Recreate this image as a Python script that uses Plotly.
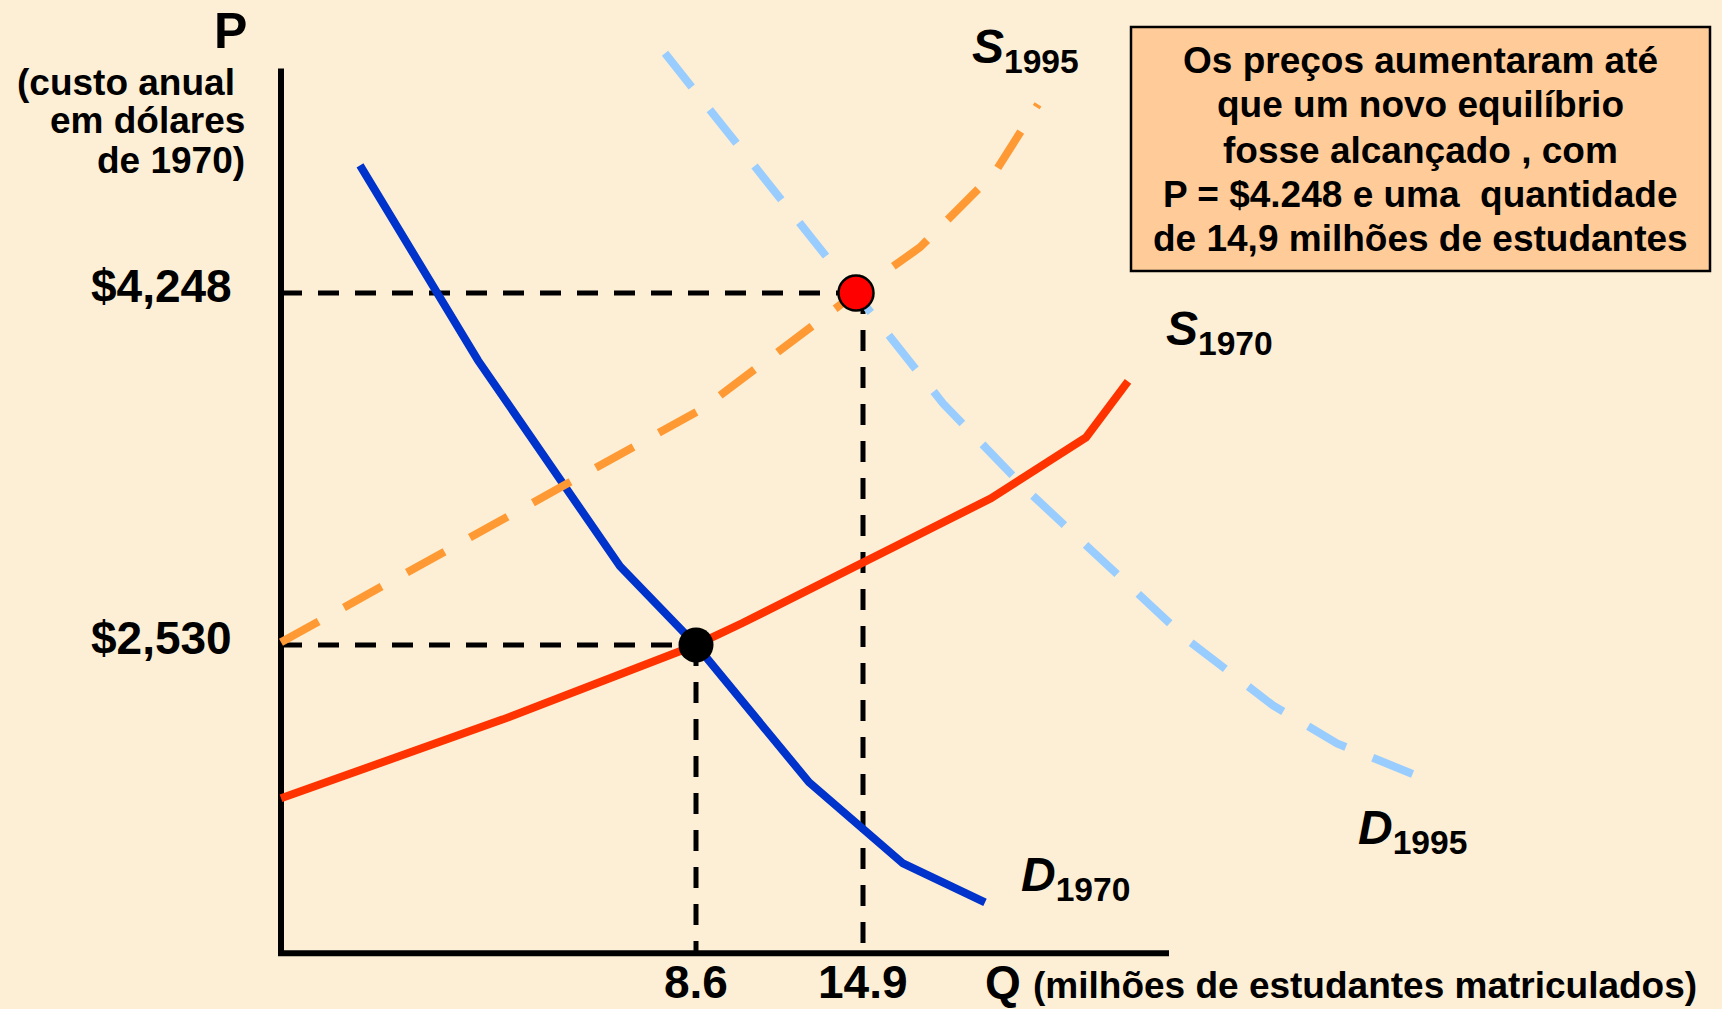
import plotly.graph_objects as go

W, H = 1722, 1009

# ---------------- data ----------------
# q: horizontal position in chart units (0 = vertical axis); P: annual cost in 1970 dollars
d1970_q = [7.9, 19.7, 33.9, 41.5, 52.8, 62.2, 70.4]
d1970_p = [4871, 3919, 2914, 2530, 1860, 1464, 1274]

s1970_q = [0, 22.2, 41.5, 46.1, 71.0, 80.5, 84.7]
s1970_p = [1782, 2167, 2530, 2636, 3246, 3543, 3817]

s1995_q = [0, 42.2, 57.5, 63.9, 71.4, 75.7]
s1995_p = [2543, 3685, 4248, 4471, 4837, 5169]

d1995_q = [38.4, 66.2, 74.3, 90.7, 99.2, 105.6, 113.5]
d1995_p = [5418, 3709, 3299, 2553, 2235, 2050, 1894]

eq_q = [41.5, 57.5]          # equilibrium points (1970, 1995)
eq_p = [2530, 4248]
eq_colors = ["#000000", "#FF0000"]

q_tick_pos = [41.5, 58.2]
q_tick_text = ["8.6", "14.9"]
p_tick_vals = [2530, 4248]
p_tick_text = ["$2,530", "$4,248"]

box_lines = ["Os preços aumentaram até",
             "que um novo equilíbrio",
             "fosse alcançado , com",
             "P = $4.248 e uma  quantidade",
             "de 14,9 milhões de estudantes"]

axis_p_min, axis_p_max = 1025, 5344
axis_q_max = 88.8

X_RANGE = [-28.1, 144.1]
Y_RANGE = [753.4, 5678]

FONT = "Liberation Sans, Arial, Helvetica, sans-serif"
BG = "#FCEFD5"


def pxx(x):
    return x / W


def pxy(y):
    return 1 - y / H


fig = go.Figure()

# axis lines
fig.add_trace(go.Scatter(x=[0, 0], y=[axis_p_min, axis_p_max], mode="lines",
                         line=dict(color="black", width=6), hoverinfo="skip", showlegend=False))
fig.add_trace(go.Scatter(x=[-0.3, axis_q_max], y=[axis_p_min, axis_p_min], mode="lines",
                         line=dict(color="black", width=6), hoverinfo="skip", showlegend=False))

# reference dashed lines
for i in range(2):
    fig.add_trace(go.Scatter(x=[0, eq_q[i]], y=[eq_p[i], eq_p[i]], mode="lines",
                             line=dict(color="black", width=5, dash="21px,16px"),
                             hoverinfo="skip", showlegend=False))
    fig.add_trace(go.Scatter(x=[q_tick_pos[i], q_tick_pos[i]], y=[eq_p[i], axis_p_min], mode="lines",
                             line=dict(color="black", width=5, dash="21px,16px"),
                             hoverinfo="skip", showlegend=False))

# curves
fig.add_trace(go.Scatter(x=s1970_q, y=s1970_p, mode="lines", name="S1970",
                         line=dict(color="#FF3300", width=8), showlegend=False))
fig.add_trace(go.Scatter(x=d1970_q, y=d1970_p, mode="lines", name="D1970",
                         line=dict(color="#0033CC", width=8), showlegend=False))
fig.add_trace(go.Scatter(x=s1995_q, y=s1995_p, mode="lines", name="S1995",
                         line=dict(color="#FF9933", width=8, dash="43px,29px"), showlegend=False))
fig.add_trace(go.Scatter(x=d1995_q, y=d1995_p, mode="lines", name="D1995",
                         line=dict(color="#99CCFF", width=8, dash="43px,29px"), showlegend=False))

# equilibrium markers
fig.add_trace(go.Scatter(x=eq_q, y=eq_p, mode="markers", showlegend=False,
                         marker=dict(size=35, color=eq_colors,
                                     line=dict(color="black", width=[0, 2.5]))))

ann = []


def bold_font(size):
    return dict(family=FONT, size=size, color="black", weight="bold")


def add_text(text, x, y, size, xanchor="left", yanchor="middle", align="left"):
    ann.append(dict(text=text, x=pxx(x), y=pxy(y), xref="paper", yref="paper",
                    xanchor=xanchor, yanchor=yanchor, align=align, showarrow=False,
                    font=bold_font(size)))


# tick labels, placed on the data axes
for v, t in zip(p_tick_vals, p_tick_text):
    ann.append(dict(text=t, x=0, y=v, xref="x", yref="y", xanchor="right", yanchor="middle",
                    xshift=-47, yshift=7, showarrow=False, font=bold_font(46)))
for v, t in zip(q_tick_pos, q_tick_text):
    ann.append(dict(text=t, x=v, y=axis_p_min, xref="x", yref="y", xanchor="center",
                    yanchor="middle", yshift=-29, showarrow=False, font=bold_font(46)))

# y-axis title
add_text("P", 230, 31, 50, xanchor="center")
add_text("(custo anual", 237, 82, 37, xanchor="right")
add_text("em dólares", 247, 121, 37, xanchor="right")
add_text("de 1970)", 247, 160, 37, xanchor="right")

# x-axis title
add_text("Q", 983, 982, 46, xanchor="left")
add_text("(milhões de estudantes matriculados)", 1031, 985, 37, xanchor="left")

# curve labels
add_text("<i>S</i><sub>1995</sub>", 970, 50, 48)
add_text("<i>S</i><sub>1970</sub>", 1164, 332, 48)
add_text("<i>D</i><sub>1995</sub>", 1356, 831, 48)
add_text("<i>D</i><sub>1970</sub>", 1019, 878, 48)

# info box text, one line each
box_centers_y = [60, 105, 150, 194, 238]
for line, yc in zip(box_lines, box_centers_y):
    add_text(line, 1420, yc, 37, xanchor="center", align="center")

fig.update_layout(
    width=W, height=H,
    margin=dict(l=0, r=0, t=0, b=0, autoexpand=False),
    paper_bgcolor=BG, plot_bgcolor=BG,
    annotations=ann,
    shapes=[dict(type="rect", xref="paper", yref="paper",
                 x0=pxx(1131), x1=pxx(1710), y0=pxy(271), y1=pxy(27),
                 fillcolor="#FFCC99", line=dict(color="black", width=2.5), layer="below")],
    xaxis=dict(range=X_RANGE, showgrid=False, zeroline=False, showline=False,
               showticklabels=False, ticks="", automargin=False, fixedrange=True),
    yaxis=dict(range=Y_RANGE, showgrid=False, zeroline=False, showline=False,
               showticklabels=False, ticks="", automargin=False, fixedrange=True),
    hovermode=False,
)

fig.write_html("out.html",
               config={"displayModeBar": False},
               post_script="document.body.style.margin='0';document.body.style.overflow='hidden';")
